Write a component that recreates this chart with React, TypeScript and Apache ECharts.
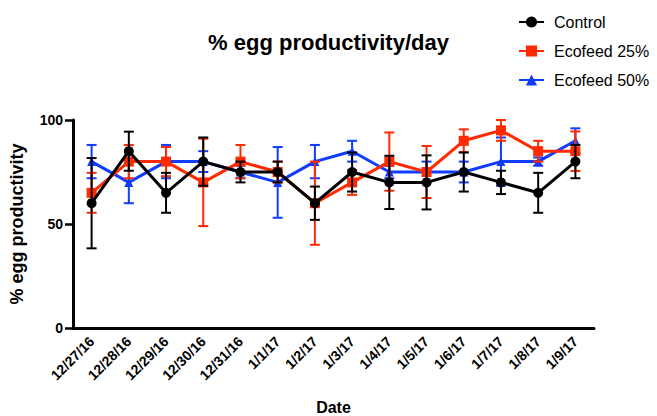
import React, { useEffect, useRef } from "react";
import * as echarts from "echarts";

const categories = ["12/27/16", "12/28/16", "12/29/16", "12/30/16", "12/31/16", "1/1/17", "1/2/17", "1/3/17", "1/4/17", "1/5/17", "1/6/17", "1/7/17", "1/8/17", "1/9/17"];
const control = [60, 85, 65, 80, 75, 75, 60, 75, 70, 70, 75, 70, 65, 80];
const controlErr = [21.7, 9.4, 9.6, 11.6, 5, 5, 8, 9.4, 12.8, 13, 9.4, 5.6, 9.6, 8];
const eco25 = [65, 80, 80, 70, 80, 75, 60, 70, 80, 75, 90, 95, 85, 85];
const eco25Err = [9.6, 8, 7, 21, 8, 5, 20, 6, 14, 12.5, 5.5, 5, 5, 9.5];
const eco50 = [80, 70, 80, 80, 75, 70, 80, 85, 75, 75, 75, 80, 80, 90];
const eco50Err = [8, 10, 8, 5, 3, 17, 8, 5, 3, 5, 5, 11.6, 2, 6];
const yTicks = [0, 50, 100];

const BLACK = "#000000";
const RED = "#ff2a00";
const BLUE = "#0f3cff";
const FONT = "Liberation Sans, Arial, sans-serif";

function errSeries(name: string, vals: number[], errs: number[], color: string, z: number) {
  return {
    type: "custom",
    name: name + " err",
    z,
    silent: true,
    encode: { x: 0, y: [1, 2] },
    data: vals.map((v, i) => [i, v - errs[i], v + errs[i]]),
    renderItem: (params: any, api: any) => {
      const x = api.value(0);
      const lo = api.coord([x, api.value(1)]);
      const hi = api.coord([x, api.value(2)]);
      const hw = 5;
      const style = { stroke: color, lineWidth: 2, fill: "none" };
      return {
        type: "group",
        children: [
          { type: "line", shape: { x1: lo[0], y1: lo[1], x2: hi[0], y2: hi[1] }, style },
          { type: "line", shape: { x1: lo[0] - hw, y1: lo[1], x2: lo[0] + hw, y2: lo[1] }, style },
          { type: "line", shape: { x1: hi[0] - hw, y1: hi[1], x2: hi[0] + hw, y2: hi[1] }, style },
        ],
      };
    },
  };
}

function lineSeries(name: string, vals: number[], color: string, symbol: string, size: number, z: number) {
  return {
    type: "line",
    name,
    z,
    data: vals,
    symbol,
    symbolSize: size,
    lineStyle: { color, width: 3 },
    itemStyle: { color },
  };
}

export default function App() {
  const ref = useRef<HTMLDivElement>(null);
  useEffect(() => {
    document.body.style.margin = "0";
    const chart = echarts.init(ref.current!, null, { renderer: "svg" });
    chart.setOption({
      animation: false,
      backgroundColor: "#ffffff",
      title: {
        text: "% egg productivity/day",
        left: "center",
        top: 26,
        textStyle: { fontFamily: FONT, fontSize: 22, fontWeight: "bold", color: "#000" },
      },
      legend: {
        orient: "vertical",
        left: 513,
        top: 9,
        itemWidth: 25,
        itemHeight: 14,
        itemGap: 13,
        data: ["Control", "Ecofeed 25%", "Ecofeed 50%"],
        textStyle: { fontFamily: FONT, fontSize: 16, color: "#000", padding: [0, 0, 0, 5] },
      },
      grid: { left: 68, top: 120, width: 526, height: 208 },
      xAxis: {
        type: "category",
        data: categories,
        name: "Date",
        nameLocation: "middle",
        nameGap: 71,
        nameTextStyle: { fontFamily: FONT, fontSize: 16, fontWeight: "bold", color: "#000" },
        axisLine: { lineStyle: { color: "#000", width: 3 } },
        axisTick: { alignWithLabel: true, length: 7, lineStyle: { color: "#000", width: 2.5 } },
        axisLabel: { rotate: 45, margin: 11, fontFamily: FONT, fontSize: 14, fontWeight: "bold", color: "#000" },
      },
      yAxis: {
        type: "value",
        min: yTicks[0],
        max: yTicks[yTicks.length - 1],
        interval: 50,
        name: "% egg productivity",
        nameLocation: "middle",
        nameGap: 47,
        nameTextStyle: { fontFamily: FONT, fontSize: 18, fontWeight: "bold", color: "#000" },
        axisLine: { show: true, lineStyle: { color: "#000", width: 3 } },
        axisTick: { show: true, length: 8, lineStyle: { color: "#000", width: 2.5 } },
        axisLabel: { margin: 10, fontFamily: FONT, fontSize: 14, fontWeight: "bold", color: "#000" },
        splitLine: { show: false },
      },
      series: [
        lineSeries("Ecofeed 50%", eco50, BLUE, "triangle", 9, 2),
        errSeries("Ecofeed 50%", eco50, eco50Err, BLUE, 3),
        lineSeries("Ecofeed 25%", eco25, RED, "rect", 10, 4),
        errSeries("Ecofeed 25%", eco25, eco25Err, RED, 5),
        lineSeries("Control", control, BLACK, "circle", 10, 6),
        errSeries("Control", control, controlErr, BLACK, 7),
      ],
    });
    return () => chart.dispose();
  }, []);
  return <div ref={ref} style={{ width: 657, height: 416 }} />;
}
